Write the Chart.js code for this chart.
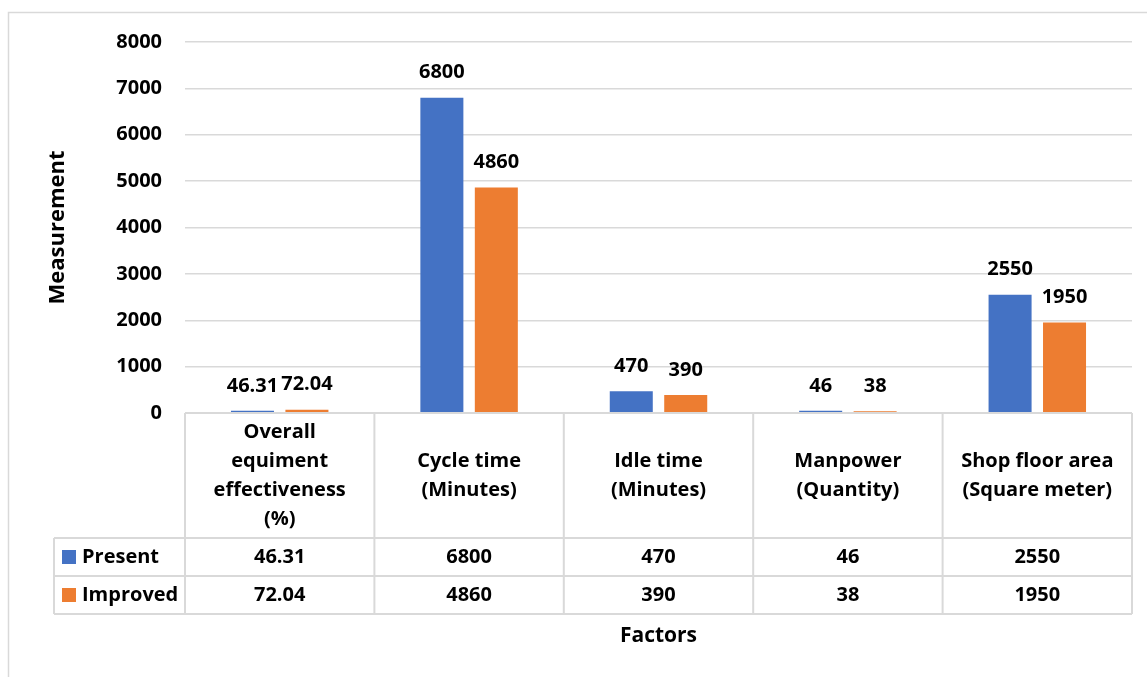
<!DOCTYPE html>
<html>
<head>
<meta charset="utf-8">
<script src="https://cdn.jsdelivr.net/npm/chart.js@4.4.1/dist/chart.umd.min.js"></script>
<style>
  html, body { margin: 0; padding: 0; background: #fff; }
  #wrap { width: 1147px; height: 677px; position: relative; }
</style>
</head>
<body>
<div id="wrap"><canvas id="c" width="1147" height="677"></canvas></div>
<script>
// Factors compared (each label split into the lines shown in the table header)
const categories = [
  ["Overall", "equiment", "effectiveness", "(%)"],
  ["Cycle time", "(Minutes)"],
  ["Idle time", "(Minutes)"],
  ["Manpower", "(Quantity)"],
  ["Shop floor area", "(Square meter)"]
];
const presentValues = [46.31, 6800, 470, 46, 2550];
const improvedValues = [72.04, 4860, 390, 38, 1950];
const yTicks = [0, 1000, 2000, 3000, 4000, 5000, 6000, 7000, 8000];

const seriesNames = ["Present", "Improved"];
const seriesColors = ["#4472C4", "#ED7D31"];

const FONT = "'Open Sans'";
const GRID = "#d9d9d9";

// Outer chart frame (left and top edges)
const framePlugin = {
  id: "frame",
  beforeDraw(chart) {
    const ctx = chart.ctx;
    ctx.save();
    ctx.strokeStyle = GRID;
    ctx.lineWidth = 1.5;
    ctx.beginPath();
    ctx.moveTo(8.5, 677);
    ctx.lineTo(8.5, 12.5);
    ctx.lineTo(1147, 12.5);
    ctx.stroke();
    ctx.restore();
  }
};

// Value labels above each bar
const barLabelPlugin = {
  id: "barLabels",
  afterDatasetsDraw(chart) {
    const ctx = chart.ctx;
    ctx.save();
    ctx.font = "bold 20px " + FONT;
    ctx.fillStyle = "#000";
    ctx.textAlign = "center";
    ctx.textBaseline = "middle";
    chart.data.datasets.forEach((ds, di) => {
      const meta = chart.getDatasetMeta(di);
      meta.data.forEach((bar, i) => {
        ctx.fillText(String(ds.data[i]), bar.x, bar.y - 25);
      });
    });
    ctx.restore();
  }
};

// Data table under the plot: category header row plus one row per series
const dataTablePlugin = {
  id: "dataTable",
  afterDraw(chart) {
    const ctx = chart.ctx;
    const area = chart.chartArea;
    const n = categories.length;
    const colW = (area.right - area.left) / n;
    const top = area.bottom;
    const headerBottom = top + 125;
    const rowH = 38;
    const tableLeft = 54;
    const tableBottom = headerBottom + rowH * seriesNames.length;

    ctx.save();
    ctx.strokeStyle = GRID;
    ctx.lineWidth = 2;
    ctx.beginPath();
    // horizontal rules
    ctx.moveTo(area.left, top); ctx.lineTo(area.right, top);
    for (let r = 0; r <= seriesNames.length; r++) {
      const y = headerBottom + r * rowH;
      ctx.moveTo(tableLeft, y); ctx.lineTo(area.right, y);
    }
    // vertical rules
    ctx.moveTo(tableLeft, headerBottom); ctx.lineTo(tableLeft, tableBottom);
    for (let c = 0; c <= n; c++) {
      const x = area.left + c * colW;
      ctx.moveTo(x, top); ctx.lineTo(x, tableBottom);
    }
    ctx.stroke();

    ctx.fillStyle = "#000";
    ctx.font = "bold 20px " + FONT;
    ctx.textBaseline = "middle";
    ctx.textAlign = "center";

    // header labels
    const lineH = 29;
    const headerMid = (top + headerBottom) / 2;
    categories.forEach((lines, c) => {
      const cx = chart.scales.x.getPixelForValue(c);
      const startY = headerMid - (lines.length - 1) * lineH / 2;
      lines.forEach((t, k) => ctx.fillText(t, cx, startY + k * lineH));
    });

    // series rows
    chart.data.datasets.forEach((ds, r) => {
      const cy = headerBottom + r * rowH + rowH / 2;
      ctx.fillStyle = seriesColors[r];
      ctx.fillRect(62, cy - 7, 14, 14);
      ctx.fillStyle = "#000";
      ctx.textAlign = "left";
      ctx.fillText(seriesNames[r], 82, cy);
      ctx.textAlign = "center";
      ds.data.forEach((v, c) => {
        const cx = chart.scales.x.getPixelForValue(c);
        ctx.fillText(String(v), cx, cy);
      });
    });
    ctx.restore();
  }
};

new Chart(document.getElementById("c"), {
  type: "bar",
  data: {
    labels: categories,
    datasets: [
      { label: seriesNames[0], data: presentValues, backgroundColor: seriesColors[0] },
      { label: seriesNames[1], data: improvedValues, backgroundColor: seriesColors[1] }
    ]
  },
  options: {
    responsive: false,
    animation: false,
    devicePixelRatio: 1,
    categoryPercentage: 0.575,
    barPercentage: 0.79,
    layout: { padding: { left: 0, right: 15, top: 42, bottom: 0 } },
    plugins: {
      legend: { display: false },
      tooltip: { enabled: false }
    },
    scales: {
      x: {
        ticks: { display: false },
        grid: { display: false },
        border: { display: false },
        title: {
          display: true,
          text: "Factors",
          color: "#000",
          font: { family: "Open Sans", size: 21, weight: "bold" },
          padding: { top: 0, bottom: 28 }
        },
        afterFit(scale) { scale.height = 264; }
      },
      y: {
        min: 0,
        max: 8000,
        afterBuildTicks(scale) { scale.ticks = yTicks.map(v => ({ value: v })); },
        ticks: {
          color: "#000",
          padding: 23,
          font: { family: "Open Sans", size: 20, weight: "bold" },
          callback: (v) => String(v)
        },
        grid: { color: GRID, lineWidth: 1.5, drawTicks: false },
        border: { display: false },
        title: {
          display: true,
          text: "Measurement",
          color: "#000",
          font: { family: "Open Sans", size: 22, weight: "bold" },
          padding: { top: 45, bottom: 0 }
        },
        afterFit(scale) { scale.width = 185; }
      }
    }
  },
  plugins: [framePlugin, barLabelPlugin, dataTablePlugin]
});
</script>
</body>
</html>
